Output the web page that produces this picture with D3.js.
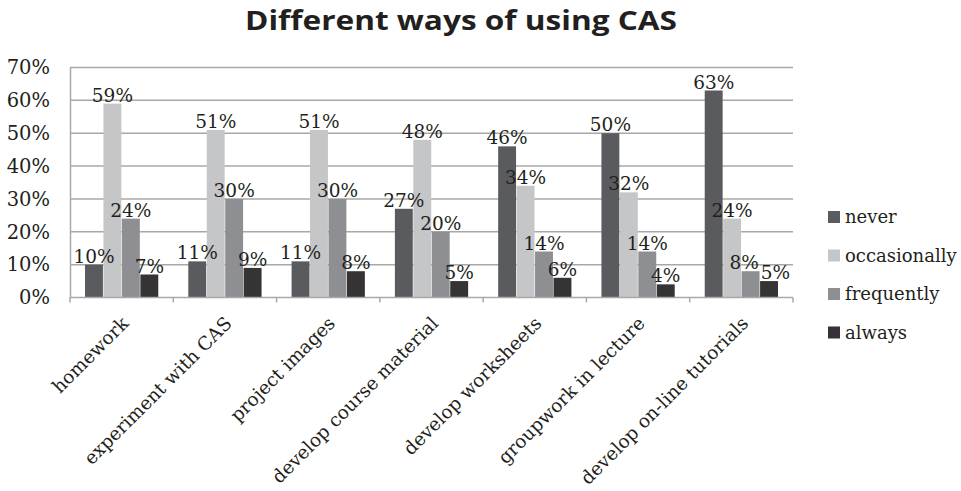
<!DOCTYPE html>
<html>
<head>
<meta charset="utf-8">
<script src="https://cdn.jsdelivr.net/npm/d3@7"></script>
<style>
  html, body { margin: 0; padding: 0; background: #fff; }
  svg { display: block; }
</style>
</head>
<body>
<svg id="chart" width="961" height="491"></svg>
<script>
// Survey: how lecturers use CAS, share of responses per frequency
const categories = ["homework", "experiment with CAS", "project images", "develop course material",
  "develop worksheets", "groupwork in lecture", "develop on-line tutorials"];
const seriesNames = ["never", "occasionally", "frequently", "always"];
const never = [10, 11, 11, 27, 46, 50, 63];
const occasionally = [59, 51, 51, 48, 34, 32, 24];
const frequently = [24, 30, 30, 20, 14, 14, 8];
const always = [7, 9, 8, 5, 6, 4, 5];
const yTicks = [0, 10, 20, 30, 40, 50, 60, 70];
const colors = ["#5a5b5e", "#c5c6c8", "#8e8f92", "#353334"];

const seriesValues = [never, occasionally, frequently, always];
const rows = categories.map((c, i) => ({ cat: c, vals: seriesNames.map((s, j) => ({ key: s, v: seriesValues[j][i] })) }));

const svg = d3.select("#chart");
const serif = "'DejaVu Serif', 'Liberation Serif', serif";
const textColor = "#231f20";

const margin = { left: 70, right: 168, top: 67.5, bottom: 193.5 };
const W = 961, H = 491;
const x0 = d3.scaleBand().domain(categories).range([margin.left, W - margin.right]).paddingInner(0.28).paddingOuter(0.14);
const x1 = d3.scaleBand().domain(seriesNames).range([0, x0.bandwidth()]).padding(0.03);
const xBound = d3.scaleBand().domain(categories).range([margin.left, W - margin.right]);
const y = d3.scaleLinear().domain([0, 70]).range([H - margin.bottom, margin.top]);

// Title
svg.append("text")
  .attr("x", 461).attr("y", 30)
  .attr("text-anchor", "middle")
  .attr("font-family", "'Open Sans', 'Liberation Sans', sans-serif")
  .attr("font-weight", "bold")
  .attr("font-size", 26)
  .attr("textLength", 432)
  .attr("lengthAdjust", "spacingAndGlyphs")
  .attr("fill", textColor)
  .text("Different ways of using CAS");

// Horizontal gridlines
svg.append("g")
  .selectAll("line").data(yTicks.filter(t => t > 0)).join("line")
  .attr("x1", margin.left).attr("x2", W - margin.right)
  .attr("y1", d => y(d)).attr("y2", d => y(d))
  .attr("stroke", "#a8a8a8").attr("stroke-width", 1.5);

// Y axis
const yAxis = svg.append("g")
  .attr("transform", `translate(${margin.left},0)`)
  .call(d3.axisLeft(y).tickValues(yTicks).tickFormat(d => d + "%").tickSize(0).tickPadding(20));
yAxis.select(".domain").attr("stroke", "#a8a8a8").attr("stroke-width", 1.5);
yAxis.selectAll("text")
  .attr("font-family", serif).attr("font-size", 19.5).attr("fill", textColor);

// Bars
const groups = svg.append("g").selectAll("g").data(rows).join("g")
  .attr("transform", d => `translate(${x0(d.cat)},0)`);
groups.selectAll("rect").data(d => d.vals).join("rect")
  .attr("x", d => x1(d.key))
  .attr("width", x1.bandwidth())
  .attr("y", d => y(d.v))
  .attr("height", d => y(0) - y(d.v))
  .attr("fill", (d, i) => colors[i]);

// Value labels
groups.each(function () {
  const labels = d3.select(this).selectAll("text").data(d => d.vals).join("text")
    .attr("x", d => x1(d.key) + x1.bandwidth() / 2)
    .attr("y", d => y(d.v) - 2)
    .attr("text-anchor", "middle")
    .attr("font-family", serif).attr("font-size", 18.5)
    .attr("fill", textColor)
    .text(d => d.v + "%");
  // Push neighbouring labels apart where they collide
  const nodes = labels.nodes();
  for (let i = 1; i < nodes.length; i++) {
    const a = nodes[i - 1].getBBox(), b = nodes[i].getBBox();
    const vOverlap = a.y < b.y + b.height && b.y < a.y + a.height;
    const hOverlap = a.x + a.width - b.x;
    if (vOverlap && hOverlap > 0) {
      const s = hOverlap / 2 + 1;
      d3.select(nodes[i - 1]).attr("x", +nodes[i - 1].getAttribute("x") - s);
      d3.select(nodes[i]).attr("x", +nodes[i].getAttribute("x") + s);
    }
  }
});

// X axis baseline with category boundary ticks
const xAxisG = svg.append("g");
xAxisG.append("line")
  .attr("x1", margin.left).attr("x2", W - margin.right)
  .attr("y1", y(0)).attr("y2", y(0))
  .attr("stroke", "#a8a8a8").attr("stroke-width", 1.5);
const bounds = categories.map(c => xBound(c)).concat([W - margin.right]);
xAxisG.selectAll("line.tick").data(bounds).join("line")
  .attr("class", "tick")
  .attr("x1", d => d).attr("x2", d => d)
  .attr("y1", y(0)).attr("y2", y(0) + 5)
  .attr("stroke", "#a8a8a8").attr("stroke-width", 1.5);

// Rotated category labels
xAxisG.selectAll("text").data(categories).join("text")
  .attr("transform", d => `translate(${xBound(d) + xBound.bandwidth() / 2 + 8},${y(0) + 27}) rotate(-45)`)
  .attr("text-anchor", "end")
  .attr("font-family", serif).attr("font-size", 18.5)
  .attr("fill", textColor)
  .text(d => d);

// Legend
const legend = svg.append("g").attr("transform", "translate(828,0)");
const legRows = legend.selectAll("g").data(seriesNames).join("g")
  .attr("transform", (d, i) => `translate(0,${217 + i * 38.5})`);
legRows.append("rect")
  .attr("x", 0).attr("y", -6).attr("width", 12).attr("height", 12)
  .attr("fill", (d, i) => colors[i]);
legRows.append("text")
  .attr("x", 17).attr("y", 6)
  .attr("font-family", serif).attr("font-size", 18)
  .attr("fill", textColor)
  .text(d => d);
</script>
</body>
</html>
